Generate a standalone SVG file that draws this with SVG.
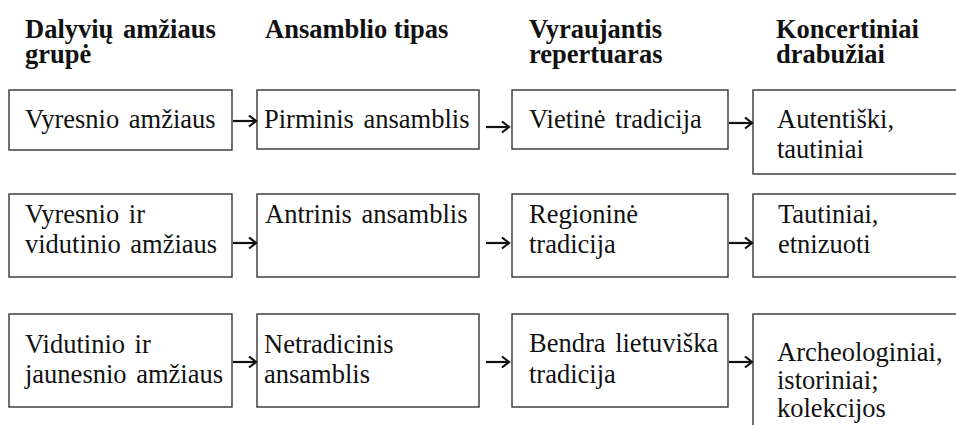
<svg xmlns="http://www.w3.org/2000/svg" width="956" height="425" viewBox="0 0 956 425" font-family="Liberation Serif, serif">
<style>
  .bg { fill: #ffffff; }
  .box { fill: #ffffff; stroke: #333333; stroke-width: 1.4; }
  .hd { font-weight: 700; font-size: 26.5px; fill: #111111; }
  .tx { font-size: 26.5px; fill: #111111; }
  .conn { stroke: #111111; stroke-width: 2.2; fill: none; }
</style>
<defs>
  <marker id="ah" markerUnits="userSpaceOnUse" markerWidth="10" markerHeight="14" refX="8" refY="6" orient="auto">
    <path d="M1,0.5 L8,6 L1,11.5" fill="none" stroke="#111111" stroke-width="2.2"/>
  </marker>
</defs>
<rect class="bg" x="0" y="0" width="956" height="425"/>

<g id="headers" font-family="Liberation Serif, serif">
  <text class="hd" x="25" y="38" word-spacing="3">Dalyvių amžiaus</text>
  <text class="hd" x="25" y="63">grupė</text>
  <text class="hd" x="265" y="38">Ansamblio tipas</text>
  <text class="hd" x="529" y="38">Vyraujantis</text>
  <text class="hd" x="529" y="63">repertuaras</text>
  <text class="hd" x="776" y="38">Koncertiniai</text>
  <text class="hd" x="776" y="63">drabužiai</text>
</g>

<g id="r1c1">
  <rect class="box" x="9" y="90" width="223" height="60"/>
  <text class="tx" x="25" y="128" word-spacing="3">Vyresnio amžiaus</text>
</g>
<g id="r1c2">
  <rect class="box" x="257" y="90" width="222" height="59"/>
  <text class="tx" x="264" y="128" word-spacing="3">Pirminis ansamblis</text>
</g>
<g id="r1c3">
  <rect class="box" x="512" y="90" width="216" height="59"/>
  <text class="tx" x="529" y="128" word-spacing="3">Vietinė tradicija</text>
</g>
<g id="r1c4">
  <rect class="box" x="753" y="90" width="220" height="84"/>
  <text class="tx" x="777" y="128">Autentiški,</text>
  <text class="tx" x="777" y="158">tautiniai</text>
</g>

<g id="r2c1">
  <rect class="box" x="9" y="194" width="223" height="83"/>
  <text class="tx" x="25" y="223" word-spacing="3">Vyresnio ir</text>
  <text class="tx" x="25" y="253" word-spacing="3">vidutinio amžiaus</text>
</g>
<g id="r2c2">
  <rect class="box" x="257" y="194" width="222" height="83"/>
  <text class="tx" x="265" y="223" word-spacing="3">Antrinis ansamblis</text>
</g>
<g id="r2c3">
  <rect class="box" x="512" y="194" width="216" height="83"/>
  <text class="tx" x="529" y="223">Regioninė</text>
  <text class="tx" x="529" y="253">tradicija</text>
</g>
<g id="r2c4">
  <rect class="box" x="753" y="194" width="220" height="83"/>
  <text class="tx" x="778" y="223">Tautiniai,</text>
  <text class="tx" x="778" y="253">etnizuoti</text>
</g>

<g id="r3c1">
  <rect class="box" x="9" y="314" width="223" height="93"/>
  <text class="tx" x="25" y="353" word-spacing="3">Vidutinio ir</text>
  <text class="tx" x="25" y="383" word-spacing="3">jaunesnio amžiaus</text>
</g>
<g id="r3c2">
  <rect class="box" x="257" y="314" width="222" height="93"/>
  <text class="tx" x="264" y="353">Netradicinis</text>
  <text class="tx" x="264" y="383">ansamblis</text>
</g>
<g id="r3c3">
  <rect class="box" x="512" y="314" width="216" height="93"/>
  <text class="tx" x="529" y="352" word-spacing="3">Bendra lietuviška</text>
  <text class="tx" x="529" y="383">tradicija</text>
</g>
<g id="r3c4">
  <rect class="box" x="753" y="314" width="220" height="130"/>
  <text class="tx" x="777" y="361">Archeologiniai,</text>
  <text class="tx" x="777" y="389">istoriniai;</text>
  <text class="tx" x="777" y="417">kolekcijos</text>
</g>

<g id="connectors">
  <path class="conn" d="M233,121 H256" marker-end="url(#ah)"/>
  <path class="conn" d="M486,127 H509" marker-end="url(#ah)"/>
  <path class="conn" d="M729,123 H752" marker-end="url(#ah)"/>
  <path class="conn" d="M233,243 H256" marker-end="url(#ah)"/>
  <path class="conn" d="M486,243 H509" marker-end="url(#ah)"/>
  <path class="conn" d="M729,243 H752" marker-end="url(#ah)"/>
  <path class="conn" d="M233,362 H256" marker-end="url(#ah)"/>
  <path class="conn" d="M486,362 H509" marker-end="url(#ah)"/>
  <path class="conn" d="M729,362 H752" marker-end="url(#ah)"/>
</g>
</svg>
